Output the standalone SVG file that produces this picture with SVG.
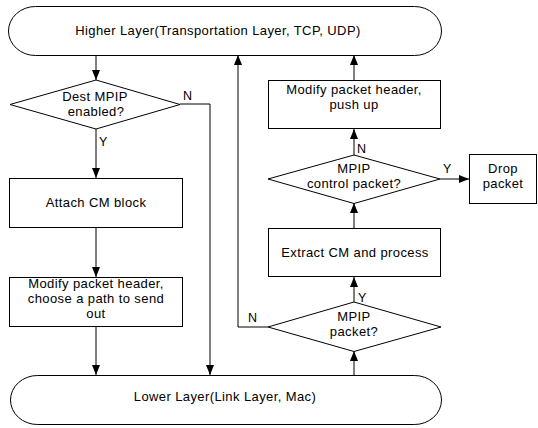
<svg xmlns="http://www.w3.org/2000/svg" width="538" height="428" viewBox="0 0 538 428">
<defs>
<marker id="ah" markerWidth="11" markerHeight="10" refX="10" refY="4" orient="auto" markerUnits="userSpaceOnUse">
<path d="M0,0 L10,4 L0,8 Z" fill="#000"/>
</marker>
<style>
.s{fill:#fff;stroke:#000;stroke-width:1}
.t{font-family:"Liberation Sans",Arial,sans-serif;font-size:13px;letter-spacing:0.4px;fill:#000;text-anchor:middle}
.l{font-family:"Liberation Sans",Arial,sans-serif;font-size:12.5px;fill:#000}
.c{fill:none;stroke:#000;stroke-width:1;marker-end:url(#ah)}
</style>
</defs>
<rect width="538" height="428" fill="#fff"/>
<g id="connectors">
<path class="c" d="M96,55 V80"/>
<path class="c" d="M96,129 V178"/>
<path class="c" d="M96,228 V277"/>
<path class="c" d="M96,327 V375"/>
<path class="c" d="M180,104 H210 V375"/>
<path class="c" d="M268,327 H238 V55"/>
<path class="c" d="M354,375 V351"/>
<path class="c" d="M354,302 V277"/>
<path class="c" d="M354,228 V203"/>
<path class="c" d="M354,155 V129"/>
<path class="c" d="M354,80 V55"/>
<path class="c" d="M440,179 H469"/>
<text class="l" x="183" y="100">N</text>
<text class="l" x="99" y="146">Y</text>
<text class="l" x="248" y="322">N</text>
<text class="l" x="358" y="302">Y</text>
<text class="l" x="357" y="153">N</text>
<text class="l" x="443" y="173">Y</text>
</g>
<g id="higher">
<rect class="s" x="8.5" y="6.5" width="433" height="49" rx="27" ry="24.5"/>
<text class="t" x="218" y="35">Higher Layer(Transportation Layer, TCP, UDP)</text>
</g>
<g id="lower">
<rect class="s" x="10.5" y="375.5" width="431" height="49" rx="27" ry="24.5"/>
<text class="t" x="225" y="401">Lower Layer(Link Layer, Mac)</text>
</g>
<g id="dest">
<polygon class="s" points="96,80 180,104.5 96,129 10,104.5"/>
<text class="t" x="95" y="101">Dest MPIP</text>
<text class="t" x="96" y="116">enabled?</text>
</g>
<g id="attach">
<rect class="s" x="9.5" y="178.5" width="173" height="49"/>
<text class="t" x="96" y="207">Attach CM block</text>
</g>
<g id="modsend">
<rect class="s" x="9.5" y="277.5" width="173" height="49"/>
<text class="t" x="96" y="288">Modify packet header,</text>
<text class="t" x="96" y="303">choose a path to send</text>
<text class="t" x="96" y="318">out</text>
</g>
<g id="mpippkt">
<polygon class="s" points="354,302 441,327 354,351.5 268,327"/>
<text class="t" x="354" y="321">MPIP</text>
<text class="t" x="354" y="336">packet?</text>
</g>
<g id="extract">
<rect class="s" x="268.5" y="228.5" width="172" height="48"/>
<text class="t" x="355" y="257">Extract CM and process</text>
</g>
<g id="control">
<polygon class="s" points="354,155 440,179 354,203.5 268,179"/>
<text class="t" x="354" y="173">MPIP</text>
<text class="t" x="354" y="188">control packet?</text>
</g>
<g id="modup">
<rect class="s" x="268.5" y="80.5" width="172" height="48"/>
<text class="t" x="354" y="94">Modify packet header,</text>
<text class="t" x="354" y="109">push up</text>
</g>
<g id="drop">
<rect class="s" x="469.5" y="154.5" width="67" height="49"/>
<text class="t" x="503" y="173">Drop</text>
<text class="t" x="503" y="188">packet</text>
</g>
</svg>
